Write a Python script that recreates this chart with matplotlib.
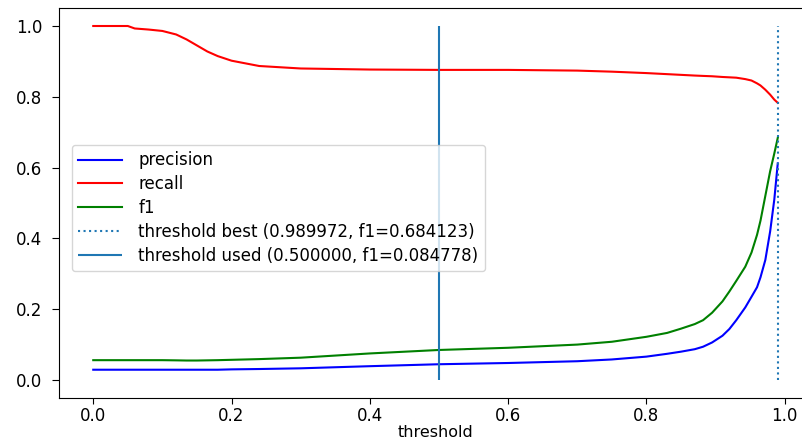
import matplotlib
matplotlib.use("Agg")
import matplotlib.pyplot as plt

# threshold sweep
thresholds = [0.0, 0.03, 0.05, 0.06, 0.08, 0.10, 0.12, 0.135, 0.15, 0.165,
              0.18, 0.20, 0.24, 0.30, 0.40, 0.50, 0.60, 0.70, 0.75, 0.80,
              0.83, 0.85, 0.87, 0.882, 0.895, 0.91, 0.92, 0.93, 0.943, 0.952,
              0.96, 0.965, 0.972, 0.979, 0.985, 0.99]
precision = [0.029, 0.029, 0.029, 0.029, 0.029, 0.029, 0.029, 0.029, 0.029, 0.029,
             0.029, 0.030, 0.031, 0.033, 0.039, 0.0445, 0.048, 0.053, 0.058, 0.066,
             0.074, 0.080, 0.087, 0.094, 0.106, 0.125, 0.144, 0.169, 0.205, 0.235,
             0.262, 0.29, 0.339, 0.42, 0.51, 0.612]
recall = [1.0, 1.0, 1.0, 0.993, 0.99, 0.986, 0.976, 0.962, 0.945, 0.928,
          0.915, 0.902, 0.887, 0.88, 0.877, 0.876, 0.876, 0.874, 0.871, 0.867,
          0.864, 0.862, 0.860, 0.859, 0.858, 0.856, 0.855, 0.854, 0.85, 0.846,
          0.838, 0.832, 0.82, 0.806, 0.792, 0.783]
f1 = [0.056, 0.056, 0.056, 0.056, 0.056, 0.056, 0.0555, 0.055, 0.055, 0.0555,
      0.056, 0.057, 0.059, 0.063, 0.075, 0.0848, 0.091, 0.100, 0.108, 0.122,
      0.133, 0.145, 0.158, 0.169, 0.19, 0.222, 0.25, 0.28, 0.32, 0.36,
      0.41, 0.45, 0.52, 0.59, 0.64, 0.684]

best_threshold, best_f1 = 0.989972, 0.684123
used_threshold, used_f1 = 0.500000, 0.084778

plt.rcParams["font.size"] = 12

fig = plt.figure(figsize=(8.03, 4.44), dpi=100)
ax = fig.add_axes([0.0735, 0.1043, 0.9377, 0.877])

ax.plot(thresholds, precision, color="b", label="precision")
ax.plot(thresholds, recall, color="r", label="recall")
ax.plot(thresholds, f1, color="g", label="f1")
ax.vlines(best_threshold, 0, 1, linestyles=":", color="C0",
          label="threshold best (%f, f1=%f)" % (best_threshold, best_f1))
ax.vlines(used_threshold, 0, 1, color="C0",
          label="threshold used (%f, f1=%f)" % (used_threshold, used_f1))

ax.tick_params(axis="y", length=5, pad=7)
ax.tick_params(axis="x", length=4, pad=3)
ax.set_xlabel("threshold", labelpad=0, fontsize=11.5)
ax.legend(loc="center left", bbox_to_anchor=(0.017, 0.487), borderaxespad=0,
          handlelength=2.6, handletextpad=1.0, labelspacing=0.35)

fig.savefig("out.png", dpi=100)
